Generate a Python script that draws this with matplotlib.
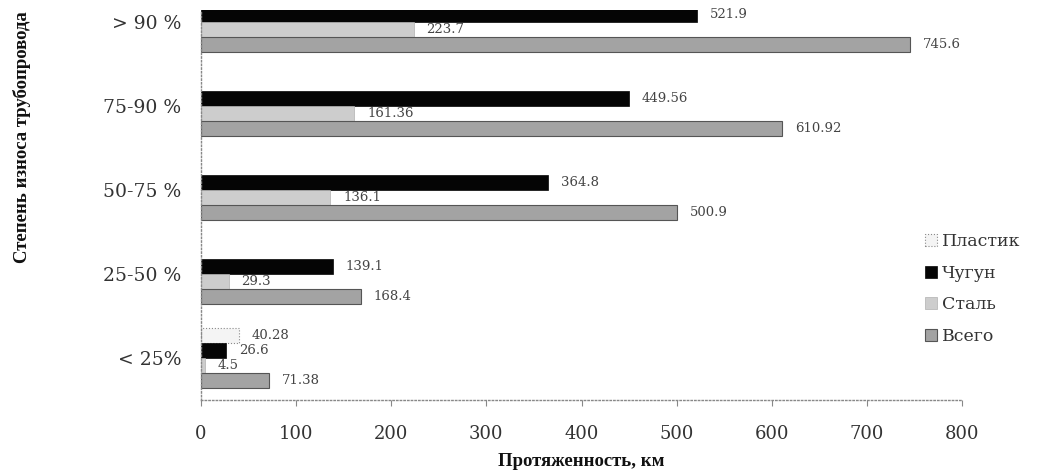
import matplotlib
matplotlib.use("Agg")
import matplotlib.pyplot as plt
import numpy as np

categories = ["< 25%", "25-50 %", "50-75 %", "75-90 %", "> 90 %"]
plastic = [40.28, np.nan, np.nan, np.nan, np.nan]
chugun = [26.6, 139.1, 364.8, 449.56, 521.9]
stal = [4.5, 29.3, 136.1, 161.36, 223.7]
total = [71.38, 168.4, 500.9, 610.92, 745.6]
series_names = ["Пластик", "Чугун", "Сталь", "Всего"]
xticks = [0, 100, 200, 300, 400, 500, 600, 700, 800]

W, H = 1038, 473
fig = plt.figure(figsize=(W / 100, H / 100), dpi=100)
ax = fig.add_axes([201 / W, 1 - 400 / H, (962 - 201) / W, (400 - 10) / H])

y = np.arange(len(categories))
h = 0.18
styles = [
    dict(color="#f4f4f4", edgecolor="#8a8a8a", linewidth=0.8, linestyle=":"),
    dict(color="#050505", edgecolor="#050505", linewidth=0.5),
    dict(color="#cdcdcd", edgecolor="#b0b0b0", linewidth=0.5),
    dict(color="#a3a3a3", edgecolor="#555555", linewidth=0.8),
]
offsets = [1.5 * h, 0.5 * h, -0.5 * h, -1.5 * h]
data = [plastic, chugun, stal, total]

tfont = "DejaVu Serif"
for vals, off, st, name in zip(data, offsets, styles, series_names):
    bars = ax.barh(y + off, vals, height=h, label=name, **st)
    labels = ["" if np.isnan(v) else f"{v:g}" for v in vals]
    ax.bar_label(bars, labels=labels, padding=9, fontsize=9.5,
                 family=tfont, color="#444444")

ax.set_xlim(0, 800)
ax.set_ylim(-0.5, 4.14)
ax.set_xticks(xticks)
ax.set_xticklabels([str(t) for t in xticks], family=tfont, fontsize=13, color="#333333")
ax.set_yticks(y)
ax.set_yticklabels(categories, family=tfont, fontsize=13.5, color="#333333")
ax.tick_params(axis="y", length=0, pad=14)
ax.tick_params(axis="x", length=4, color="#888888", pad=14)

for s in ["top", "right"]:
    ax.spines[s].set_visible(False)
for s in ["left", "bottom"]:
    ax.spines[s].set_color("#888888")
    ax.spines[s].set_linestyle(":")
    ax.spines[s].set_linewidth(1.0)

ax.set_xlabel("Протяженность, км", family="Liberation Serif", fontweight="bold",
              fontsize=13.5, color="#111111", labelpad=7)
fig.text(22 / W, 1 - 137 / H, "Степень износа трубопровода", rotation=90,
         ha="center", va="center", family="Liberation Serif", fontweight="bold",
         fontsize=13.5, color="#111111")

leg = fig.legend(loc="upper left", bbox_to_anchor=(918 / W, 1 - 226 / H),
                 frameon=False, prop={"family": tfont, "size": 12.5},
                 handlelength=0.7, handleheight=0.7, handletextpad=0.3,
                 labelspacing=0.85, borderaxespad=0, labelcolor="#333333")

fig.savefig("out.png", dpi=100)
